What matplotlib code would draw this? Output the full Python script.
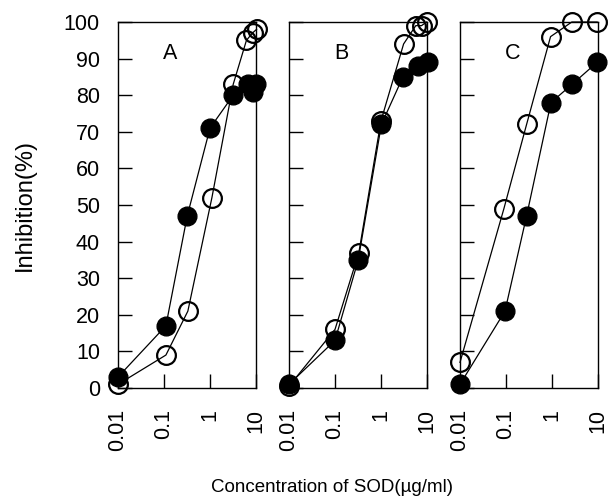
import matplotlib
matplotlib.use("Agg")
from matplotlib import pyplot as plt

plt.rcParams["font.family"] = ["Liberation Sans", "DejaVu Sans"]

panel_names = ["A", "B", "C"]

# open circles
open_x = [
    [0.01, 0.11, 0.33, 1.1, 3.2, 6.2, 8.4, 10.3],
    [0.01, 0.1, 0.33, 1.0, 3.1, 5.7, 7.6, 9.8],
    [0.01, 0.09, 0.28, 0.93, 2.7, 9.6],
]
open_y = [
    [1, 9, 21, 52, 83, 95, 97, 98],
    [0.5, 16, 37, 73, 94, 99, 99, 100],
    [7, 49, 72, 96, 100, 100],
]

# filled circles
filled_x = [
    [0.01, 0.11, 0.32, 1.0, 3.2, 6.8, 8.8, 10.2],
    [0.01, 0.1, 0.32, 1.02, 3.0, 6.3, 10.3],
    [0.01, 0.095, 0.28, 0.95, 2.75, 9.6],
]
filled_y = [
    [3, 17, 47, 71, 80, 83, 81, 83],
    [1, 13, 35, 72, 85, 88, 89],
    [1, 21, 47, 78, 83, 89],
]

xticks = [0.01, 0.1, 1, 10]
xticklabels = ["0.01", "0.1", "1", "10"]
yticks = list(range(0, 101, 10))

fig = plt.figure(figsize=(6.11, 5.04), dpi=100)

lefts = [118 / 611, 289 / 611, 460 / 611]
width = 138 / 611
bottom = 1 - 388 / 504
height = 366 / 504

for i, name in enumerate(panel_names):
    ax = fig.add_axes([lefts[i], bottom, width, height])
    ax.set_xscale("log")
    ax.plot(open_x[i], open_y[i], "-", color="black", lw=0.9, marker="o",
            ms=13.5, mfc="none", mec="black", mew=1.6, clip_on=False, zorder=3)
    ax.plot(filled_x[i], filled_y[i], "-", color="black", lw=0.9, marker="o",
            ms=13.5, mfc="black", mec="black", clip_on=False, zorder=4)
    ax.set_xlim(0.01, 10)
    ax.set_ylim(0, 100)
    ax.set_xticks(xticks)
    ax.set_xticks([], minor=True)
    ax.set_xticklabels(xticklabels, rotation=90, fontsize=15.5)
    ax.set_yticks(yticks)
    ax.tick_params(direction="in", length=10, width=1.0)
    ax.tick_params(axis="x", pad=15)
    ax.tick_params(axis="y", pad=13)
    if i == 0:
        ax.tick_params(axis="y", labelsize=15.5)
        ax.set_ylabel("Inhibition(%)", fontsize=17, labelpad=20)
    else:
        ax.tick_params(axis="y", labelleft=False)
    for sp in ax.spines.values():
        sp.set_linewidth(1.0)
    ax.text(0.38, 0.915, name, transform=ax.transAxes, fontsize=15.5,
            ha="center", va="center")

fig.text(332 / 611, 1 - 487 / 504, "Concentration of SOD(\u00b5g/ml)",
         fontsize=13.5, ha="center", va="center")

fig.savefig("out.png", dpi=100)
